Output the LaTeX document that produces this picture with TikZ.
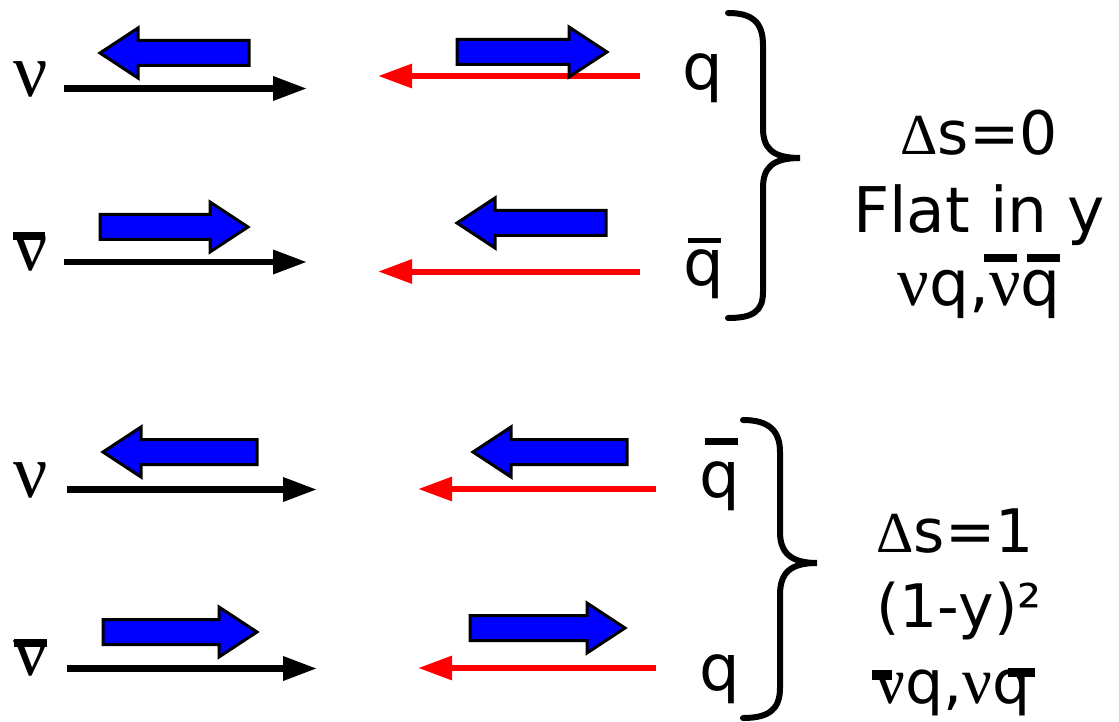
\documentclass[tikz,border=0pt]{standalone}
\usepackage{fontspec}
\setmainfont{DejaVu Sans}
\newfontfamily\serifnu{Liberation Serif}
\usetikzlibrary{arrows.meta}
\newcommand{\fs}[1]{\fontsize{#1}{#1}\selectfont}
\tikzset{
  nuline/.style={line width=6.5pt,draw=black,-{Triangle[length=34pt,width=23pt]}},
  qline/.style={line width=6pt,draw=red,-{Triangle[length=34pt,width=23pt]}},
  blockfill/.style={fill=blue,draw=black,line width=3pt,line join=miter},
  rblock/.pic={\path[blockfill] (-#1,-12.5) -- (-38,-12.5) -- (-38,-25) -- (0,0) -- (-38,25) -- (-38,12.5) -- (-#1,12.5) -- cycle;},
  lblock/.pic={\path[blockfill] (#1,-12.5) -- (38,-12.5) -- (38,-25) -- (0,0) -- (38,25) -- (38,12.5) -- (#1,12.5) -- cycle;},
  brace/.style={line width=6pt,draw=black,line cap=round},
  barline/.style={draw=black},
  nulab/.style={anchor=base,inner sep=0pt,font=\serifnu\fs{76}},
  qlab/.style={anchor=base,inner sep=0pt,font=\fs{64}},
  rtext/.style={anchor=base,inner sep=0pt,font=\fs{62}},
}
\begin{document}
\begin{tikzpicture}[x=1pt,y=-1pt]
\useasboundingbox (0,0) rectangle (1119,722);

% ---- left labels
\node[nulab] (nu1) at (31,97) {ν};
\node[nulab] (nu2) at (31,270) {ν};
\draw[barline,line width=8pt] (13,236) -- (45,236);
\node[nulab] (nu3) at (31,497) {ν};
\node[nulab] (nu4) at (31,675) {ν};
\draw[barline,line width=8pt] (14,642.5) -- (47,642.5);

% ---- black arrows
\coordinate (a1s) at (64,88.5);  \coordinate (a1e) at (307,88.5);
\coordinate (a2s) at (64,262);   \coordinate (a2e) at (307,262);
\coordinate (a3s) at (67,489.5); \coordinate (a3e) at (317,489.5);
\coordinate (a4s) at (67,668.5); \coordinate (a4e) at (317,668.5);
\draw[nuline] (a1s) -- (a1e);
\draw[nuline] (a2s) -- (a2e);
\draw[nuline] (a3s) -- (a3e);
\draw[nuline] (a4s) -- (a4e);

% ---- red arrows
\coordinate (r1s) at (640,76);    \coordinate (r1e) at (378,76);
\coordinate (r2s) at (640,271.5); \coordinate (r2e) at (378,271.5);
\coordinate (r3s) at (656,489);   \coordinate (r3e) at (418,489);
\coordinate (r4s) at (656,668);   \coordinate (r4e) at (418,668);
\draw[qline] (r1s) -- (r1e);
\draw[qline] (r2s) -- (r2e);
\draw[qline] (r3s) -- (r3e);
\draw[qline] (r4s) -- (r4e);

% ---- blue spin arrows
\pic (b1l) at (100,53) {lblock=149};
\pic (b1r) at (607,52) {rblock=150};
\pic (b2l) at (248,227) {rblock=148};
\pic (b2r) at (457,223) {lblock=149};
\pic (b3l) at (103,452) {lblock=154};
\pic (b3r) at (473,452) {lblock=154};
\pic (b4l) at (257,632) {rblock=154};
\pic (b4r) at (625,628) {rblock=155};

% ---- quark labels
\node[qlab] (q1) at (703,90) {q};
\node[qlab] (q2) at (704,285) {q};
\draw[barline,line width=5pt] (688,241) -- (721,241);
\node[qlab] (q3) at (720,497) {q};
\draw[barline,line width=7pt] (705,441) -- (738,441);
\node[qlab] (q4) at (720,690) {q};

% ---- braces
\draw[brace] (728,13) .. controls (752,13) and (763,22) .. (763,45) -- (763,128)
  .. controls (763,148) and (772,158) .. (800,158)
  .. controls (772,158) and (763,168) .. (763,188) -- (763,292)
  .. controls (763,312) and (752,318) .. (728,318);
\draw[brace] (743,420) .. controls (768,420) and (780,430) .. (780,452) -- (780,532)
  .. controls (780,552) and (790,563) .. (817,563)
  .. controls (790,563) and (780,573) .. (780,595) -- (780,688)
  .. controls (780,710) and (768,718) .. (743,718);

% ---- right texts, top
\node[rtext,font=\fs{60}] (t1a) at (979,155) {{\serifnu\fs{58}Δ}s=0};
\node[rtext,font=\fs{63}] (t1b) at (979,233) {Flat in y};
\node[rtext,font=\fs{63}] (t1c) at (979,305) {{\serifnu\fs{70}ν}q,{\serifnu\fs{70}ν}q};
\draw[barline,line width=8pt] (984,257.5) -- (1017,257.5);
\draw[barline,line width=8pt] (1027,257.5) -- (1060,257.5);

% ---- right texts, bottom
\node[rtext,font=\fs{60}] (t2a) at (955,552) {{\serifnu\fs{58}Δ}s=1};
\node[rtext,font=\fs{60}] (t2b) at (959,627) {(1-y)²};
\node[rtext,font=\fs{60}] (t2c) at (953,703) {{\serifnu\fs{66}ν}q,{\serifnu\fs{66}ν}q};
\draw[barline,line width=10pt] (872,675) -- (892,675);
\draw[barline,line width=9pt] (1008,672.5) -- (1035,672.5);
\end{tikzpicture}
\end{document}
